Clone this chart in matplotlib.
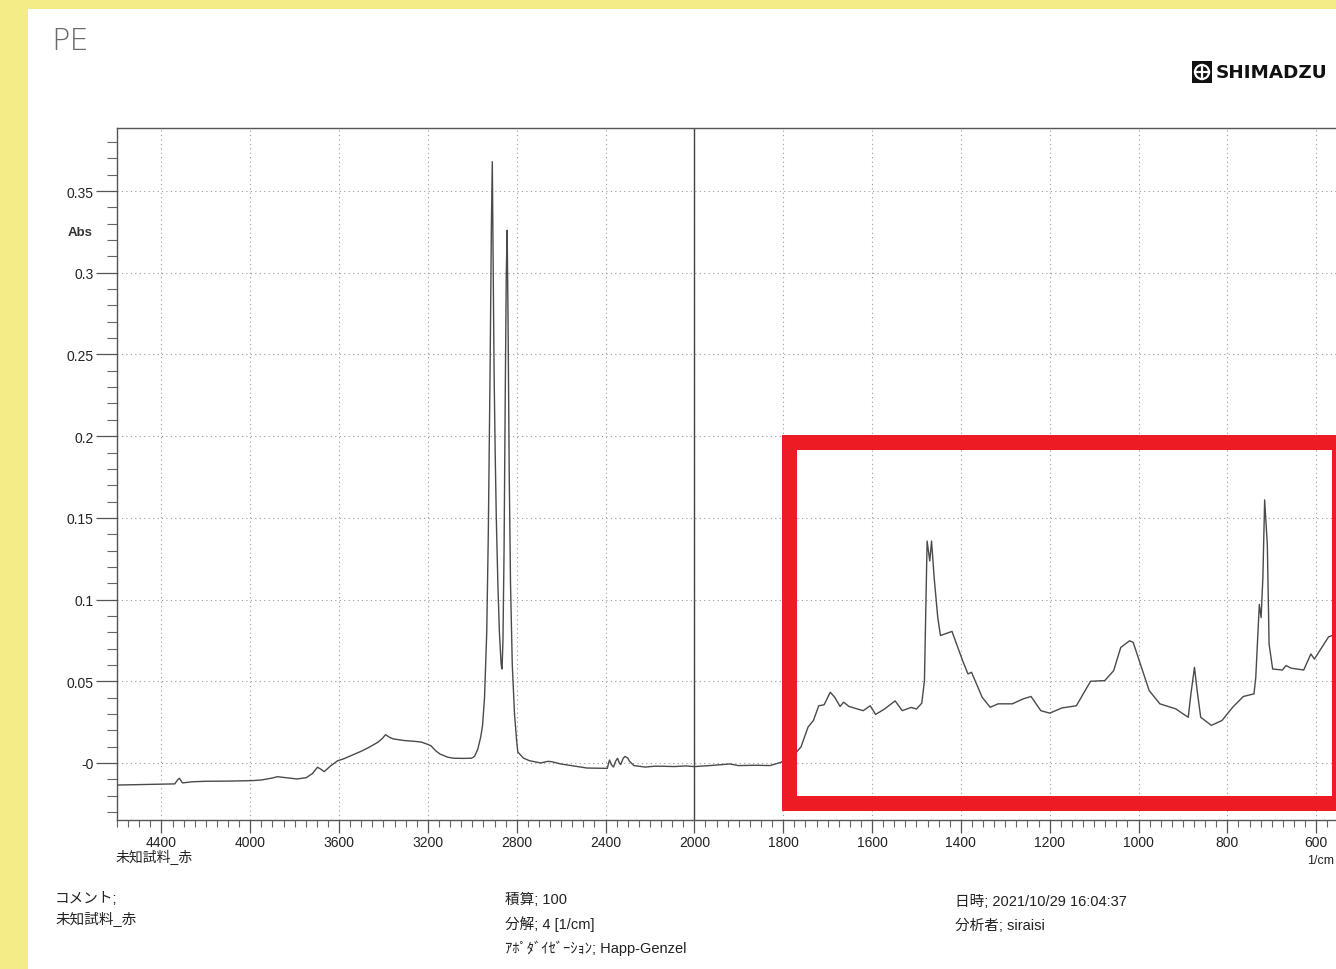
import numpy as np
import matplotlib
matplotlib.use("Agg")
import matplotlib.pyplot as plt
from matplotlib.patches import Rectangle, Circle
from matplotlib.lines import Line2D
from matplotlib.ticker import FixedLocator, FixedFormatter

plt.rcParams["font.family"] = ["Liberation Sans", "Noto Sans CJK JP", "DejaVu Sans"]

W, H = 1336, 970

# spectrum, 4600-2000 1/cm (compressed half of the axis)
wn_high = [4595, 4400, 4340, 4325, 4319, 4305, 4260, 4200, 4100, 3990, 3950, 3900,
           3878, 3840, 3789, 3748, 3720, 3697, 3680, 3667, 3640, 3606, 3580, 3546,
           3500, 3465, 3425, 3405, 3391, 3370, 3355, 3305, 3265, 3230, 3205, 3186,
           3165, 3146, 3110, 3084, 3040, 3004, 2990, 2975, 2962, 2954, 2945, 2935,
           2928, 2920, 2914, 2910, 2906, 2902, 2897, 2892, 2885, 2878, 2870, 2866,
           2862, 2857, 2852, 2847, 2843, 2839, 2834, 2828, 2820, 2810, 2800, 2795,
           2770, 2743, 2692, 2660, 2643, 2602, 2560, 2483, 2392, 2386, 2382, 2374,
           2364, 2355, 2346, 2338, 2332, 2320, 2312, 2300, 2292, 2272, 2222, 2180,
           2142, 2090, 2040, 2001]
abs_high = [-0.0135, -0.0130, -0.0128, -0.0100, -0.0094, -0.0122, -0.0115, -0.0112,
            -0.0111, -0.0108, -0.0104, -0.0092, -0.0084, -0.0090, -0.0098, -0.0090,
            -0.0065, -0.0026, -0.0040, -0.0053, -0.0020, 0.0014, 0.0025, 0.0045,
            0.0072, 0.0096, 0.0127, 0.0150, 0.0173, 0.0155, 0.0147, 0.0137, 0.0133,
            0.0128, 0.0116, 0.0105, 0.0075, 0.0055, 0.0035, 0.0029, 0.0028, 0.0029,
            0.0040, 0.0086, 0.0160, 0.0228, 0.0400, 0.0800, 0.1400, 0.2400, 0.3300,
            0.3680, 0.3000, 0.2400, 0.1900, 0.1500, 0.1100, 0.0800, 0.0600, 0.0575,
            0.0750, 0.1300, 0.2200, 0.3000, 0.3260, 0.2700, 0.1800, 0.1100, 0.0600,
            0.0300, 0.0130, 0.0067, 0.0030, 0.0014, 0.0000, 0.0010, 0.0008, -0.0006,
            -0.0015, -0.0031, -0.0033, 0.0000, 0.0018, -0.0010, -0.0025, 0.0010,
            0.0029, 0.0000, -0.0010, 0.0030, 0.0040, 0.0030, 0.0010, -0.0016,
            -0.0025, -0.0020, -0.0020, -0.0022, -0.0018, -0.0022]

# 2000-550 1/cm (expanded half)
wn_low = [1960, 1920, 1901, 1860, 1830, 1805, 1790, 1772, 1760, 1744, 1732, 1720,
          1708, 1694, 1684, 1672, 1664, 1652, 1620, 1604, 1592, 1572, 1548, 1532,
          1512, 1500, 1488, 1482, 1476, 1470, 1466, 1460, 1452, 1446, 1420, 1396,
          1384, 1376, 1352, 1334, 1316, 1284, 1260, 1242, 1220, 1200, 1172, 1140,
          1108, 1076, 1056, 1040, 1020, 1012, 996, 976, 952, 916, 900, 888, 882,
          874, 868, 860, 836, 812, 788, 764, 740, 736, 728, 724, 720, 716, 710,
          706, 698, 676, 668, 656, 628, 612, 604, 592, 572, 564, 550]
abs_low = [-0.0015, -0.0006, -0.0016, -0.0014, -0.0016, 0.0004, 0.0030, 0.0061,
           0.0098, 0.0220, 0.0260, 0.0350, 0.0356, 0.0433, 0.0402, 0.0346, 0.0372,
           0.0346, 0.0320, 0.0350, 0.0297, 0.0330, 0.0380, 0.0320, 0.0340, 0.0330,
           0.0366, 0.0504, 0.1358, 0.1236, 0.1358, 0.1130, 0.0890, 0.0780, 0.0805,
           0.0626, 0.0545, 0.0555, 0.0402, 0.0341, 0.0362, 0.0362, 0.0392, 0.0407,
           0.0320, 0.0305, 0.0337, 0.0350, 0.0500, 0.0504, 0.0565, 0.0707, 0.0748,
           0.0738, 0.0606, 0.0443, 0.0362, 0.0331, 0.0301, 0.0280, 0.0423, 0.0585,
           0.0443, 0.0280, 0.0230, 0.0260, 0.0341, 0.0407, 0.0423, 0.0524, 0.0970,
           0.0890, 0.1134, 0.1610, 0.1337, 0.0728, 0.0575, 0.0569, 0.0596, 0.0580,
           0.0569, 0.0667, 0.0636, 0.0687, 0.0772, 0.0780, 0.0790]

x_major = [4400, 4000, 3600, 3200, 2800, 2400, 2000, 1800, 1600, 1400, 1200, 1000, 800, 600]
x_labels = ["4400", "4000", "3600", "3200", "2800", "2400", "2000",
            "1800", "1600", "1400", "1200", "1000", "800", "600"]
y_major = [0.0, 0.05, 0.10, 0.15, 0.20, 0.25, 0.30, 0.35]
y_labels = ["-0", "0.05", "0.1", "0.15", "0.2", "0.25", "0.3", "0.35"]


def fwd(x):
    x = np.asarray(x, dtype=float)
    return np.where(x > 2000, 2000 + (x - 2000) / 2.0, x)


def inv(u):
    u = np.asarray(u, dtype=float)
    return np.where(u > 2000, 2000 + (u - 2000) * 2.0, u)


def px(x, y):
    return x / W, 1 - y / H


def box(x0, y0, x1, y1, color, z):
    # filled rectangle given in picture pixels (top-left origin)
    fig.add_artist(Rectangle(px(x0, y1), (x1 - x0) / W, (y1 - y0) / H,
                             transform=fig.transFigure, facecolor=color,
                             edgecolor="none", zorder=z))


fig = plt.figure(figsize=(W / 100, H / 100), dpi=100)
fig.patch.set_facecolor("#F4EC86")
box(28, 10, W + 5, H + 5, "white", -1)

left, bottom = px(117, 821)
ax = fig.add_axes([left, bottom, (1405 - 117) / W, (821 - 129) / H])
ax.set_facecolor("none")
ax.set_xscale("function", functions=(fwd, inv))
ax.set_xlim(4600, 400)
ax.set_ylim(-0.0349, 0.3886)

wn = np.array(wn_high + wn_low)
ab = np.array(abs_high + abs_low)
ax.plot(wn, ab, color="#4a4a4a", lw=1.0, zorder=3)
ax.axvline(2000, color="#444444", lw=1.0, zorder=2)

ax.xaxis.set_major_locator(FixedLocator(x_major))
ax.xaxis.set_major_formatter(FixedFormatter(x_labels))
minor_x = list(np.arange(4600, 2000, -50)) + list(np.arange(2000, 399, -25))
ax.xaxis.set_minor_locator(FixedLocator(minor_x))
ax.yaxis.set_major_locator(FixedLocator(y_major))
ax.yaxis.set_major_formatter(FixedFormatter(y_labels))
ax.yaxis.set_minor_locator(FixedLocator(np.round(np.arange(-0.03, 0.385, 0.01), 3)))

ax.grid(True, which="major", color="#9a9a9a", lw=0.8, linestyle=(0, (1, 3)))
for side in ["left", "top", "bottom"]:
    ax.spines[side].set_color("#555555")
    ax.spines[side].set_linewidth(1.0)
ax.spines["right"].set_visible(False)

ax.tick_params(axis="x", which="major", direction="out", length=9, width=0.9,
               color="#555555", pad=1.5, labelsize=10, labelcolor="#222222")
ax.tick_params(axis="x", which="minor", direction="out", length=5, width=0.8,
               color="#666666")
ax.tick_params(axis="y", which="major", direction="out", length=15, width=0.9,
               color="#555555", pad=2, labelsize=10, labelcolor="#222222")
ax.tick_params(axis="y", which="minor", direction="out", length=7, width=0.8,
               color="#666666")

fig.text(*px(80, 233), "Abs", ha="center", va="center", fontsize=9.5,
         fontweight="bold", color="#333333")
fig.text(*px(1334, 861), "1/cm", ha="right", va="center", fontsize=9, color="#222222")
fig.text(*px(116, 858), "未知試料_赤", ha="left", va="center", fontsize=10, color="#222222")

# handwritten label and maker logo
fig.text(*px(51, 42), "PE", ha="left", va="center", fontsize=22, color="#6a6a6a",
         fontweight="light", family=["DejaVu Sans"])
box(1192, 62, 1212, 84, "#111111", 4)
fig.add_artist(Circle((1202, H - 73), 7, transform=None, facecolor="none",
                      edgecolor="white", lw=1.6, zorder=5))
fig.add_artist(Line2D([1195, 1209], [H - 73, H - 73], transform=None, color="white",
                      lw=1.6, zorder=5))
fig.add_artist(Line2D([1202, 1202], [H - 66, H - 80], transform=None, color="white",
                      lw=1.6, zorder=5))
fig.text(*px(1216, 73), "SHIMADZU", ha="left", va="center", fontsize=13.2,
         fontweight="bold", color="#111111", family=["DejaVu Sans"])

# footer
info = dict(ha="left", va="center", fontsize=10.5, color="#222222")
fig.text(*px(55, 899), "コメント;", **info)
fig.text(*px(55, 920), "未知試料_赤", **info)
fig.text(*px(505, 900), "積算; 100", **info)
fig.text(*px(505, 924), "分解; 4 [1/cm]", **info)
fig.text(*px(505, 948), "ｱﾎﾟﾀﾞｲｾﾞｰｼｮﾝ; Happ-Genzel", **info)
fig.text(*px(955, 902), "日時; 2021/10/29 16:04:37", **info)
fig.text(*px(955, 926), "分析者; siraisi", **info)

# red highlight box, drawn as four bars so the corners stay square
red = "#ED1C24"
box(782, 436, 1345, 451, red, 6)
box(782, 797, 1345, 812, red, 6)
box(782, 436, 797, 812, red, 6)
box(1332, 436, 1345, 812, red, 6)

fig.savefig("out.png", dpi=100, facecolor=fig.get_facecolor())
